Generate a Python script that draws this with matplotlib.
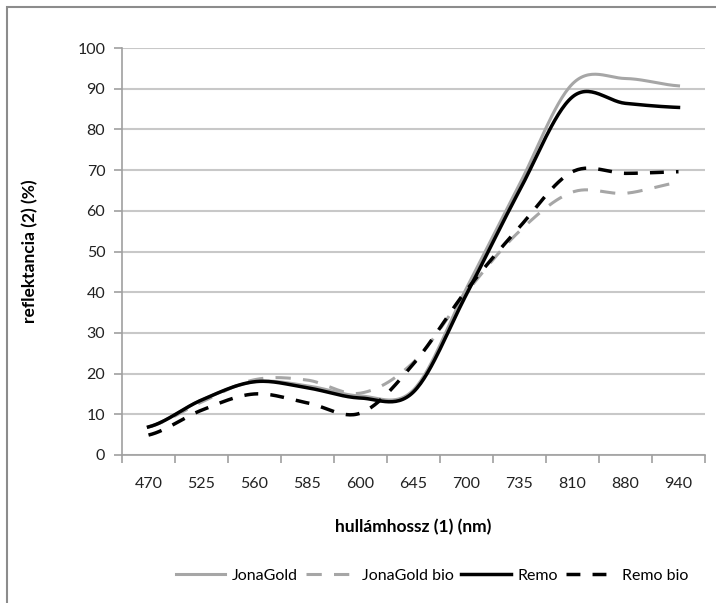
import numpy as np
import matplotlib.pyplot as plt
from matplotlib.patches import Rectangle

plt.rcParams['font.family'] = ['Lato', 'DejaVu Sans']

# wavelength categories (nm)
wavelengths = ['470', '525', '560', '585', '600', '645', '700', '735', '810', '880', '940']

# reflectance values (%)
jonagold = [6.9, 13.5, 18.0, 17.0, 14.5, 16.0, 41.0, 66.5, 91.2, 92.5, 90.7]
jonagold_bio = [6.9, 13.0, 18.5, 18.4, 15.2, 22.8, 40.0, 55.0, 64.6, 64.3, 66.9]
remo = [6.9, 13.5, 18.0, 16.5, 14.0, 15.5, 39.5, 65.0, 88.0, 86.4, 85.4]
remo_bio = [4.9, 11.0, 15.0, 12.8, 10.3, 22.4, 40.5, 56.0, 69.6, 69.2, 69.6]


def smooth(y, n=30):
    # Catmull-Rom curve through the points, like Excel's smoothed line
    y = np.asarray(y, dtype=float)
    x = np.arange(len(y), dtype=float)
    xs, ys = [], []
    for i in range(len(y) - 1):
        p0 = y[max(i - 1, 0)]
        p1 = y[i]
        p2 = y[i + 1]
        p3 = y[min(i + 2, len(y) - 1)]
        t = np.linspace(0, 1, n, endpoint=False)
        m1 = (p2 - p0) / 2
        m2 = (p3 - p1) / 2
        h00 = 2 * t**3 - 3 * t**2 + 1
        h10 = t**3 - 2 * t**2 + t
        h01 = -2 * t**3 + 3 * t**2
        h11 = t**3 - t**2
        xs.append(x[i] + t)
        ys.append(h00 * p1 + h10 * m1 + h01 * p2 + h11 * m2)
    xs.append([x[-1]])
    ys.append([y[-1]])
    return np.concatenate(xs), np.concatenate(ys)


fig = plt.figure(figsize=(7.16, 6.03), dpi=100)
ax = fig.add_axes([122 / 716, 1 - 455 / 603, (705 - 122) / 716, (455 - 48) / 603])

# outer chart border
fig.patches.append(Rectangle((7 / 716, -0.05), 1.2, 1 - 7 / 603 + 0.05,
                             transform=fig.transFigure, fill=False,
                             edgecolor='#8c8c8c', linewidth=1.5))

gray = '#a6a6a6'
ax.plot(*smooth(jonagold), color=gray, lw=2.2, label='JonaGold')
ax.plot(*smooth(jonagold_bio), color=gray, lw=2.2, dashes=(5, 4), label='JonaGold bio')
ax.plot(*smooth(remo), color='black', lw=2.5, label='Remo')
ax.plot(*smooth(remo_bio), color='black', lw=2.5, dashes=(4, 3.5), label='Remo bio')

ax.set_xlim(-0.5, len(wavelengths) - 0.5)
ax.set_ylim(0, 100)
ax.set_yticks(np.arange(0, 101, 10))
ax.yaxis.grid(True, color='#c8c8c8', linewidth=1.5)
ax.set_axisbelow(True)

ax.set_xticks(np.arange(len(wavelengths)))
ax.set_xticklabels(wavelengths)
ax.set_xticks(np.arange(len(wavelengths) + 1) - 0.5, minor=True)
ax.tick_params(axis='x', which='major', length=0, pad=16, labelsize=11.5, colors='#222222')
ax.tick_params(axis='x', which='minor', length=6, width=1.2, color='#a0a0a0')
ax.tick_params(axis='y', length=6, width=1.2, color='#a0a0a0', labelsize=11.5,
               labelcolor='#222222', pad=6)

for s in ['top', 'right']:
    ax.spines[s].set_visible(False)
for s in ['left', 'bottom']:
    ax.spines[s].set_color('#a0a0a0')
    ax.spines[s].set_linewidth(1.2)

ax.set_ylabel('reflektancia (2) (%)', fontsize=12.5, fontweight='bold', labelpad=28)
ax.set_xlabel('hullámhossz (1) (nm)', fontsize=12.5, fontweight='bold', labelpad=20)

fig.legend(loc='center', bbox_to_anchor=(432 / 716, 1 - 576 / 603), ncol=4,
           frameon=False, fontsize=11.5, handlelength=3.1, columnspacing=0.5,
           handletextpad=0.4)

fig.savefig('out.png', dpi=100)
